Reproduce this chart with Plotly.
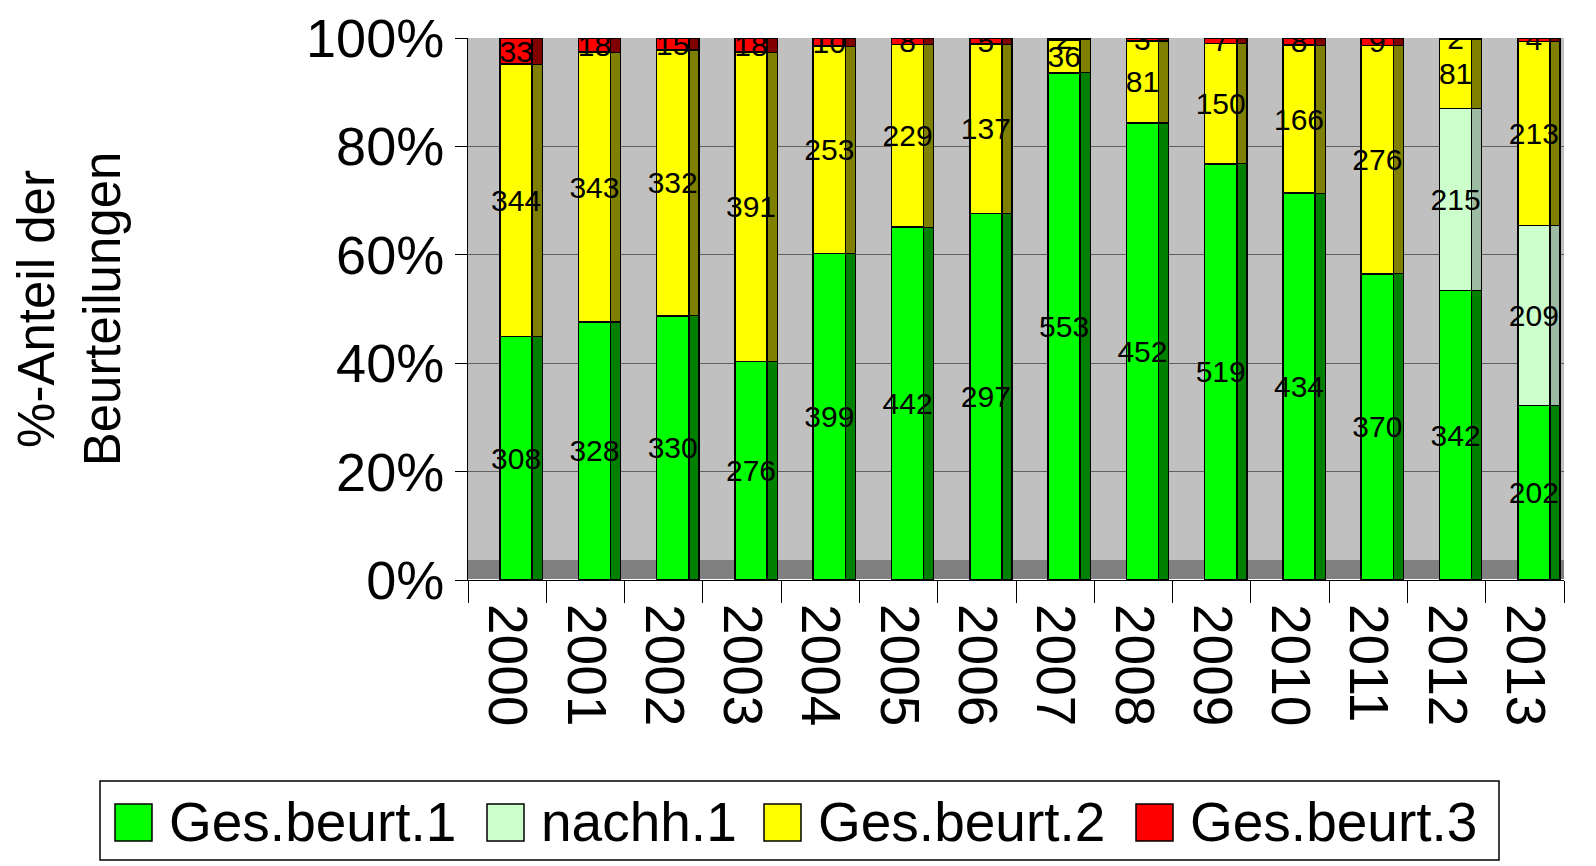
import plotly.graph_objects as go

years = ["2000", "2001", "2002", "2003", "2004", "2005", "2006",
         "2007", "2008", "2009", "2010", "2011", "2012", "2013"]
ges1 = [308, 328, 330, 276, 399, 442, 297, 553, 452, 519, 434, 370, 342, 202]
nachh1 = [0, 0, 0, 0, 0, 0, 0, 0, 0, 0, 0, 0, 215, 209]
ges2 = [344, 343, 332, 391, 253, 229, 137, 36, 81, 150, 166, 276, 81, 213]
ges3 = [33, 18, 15, 18, 10, 8, 5, 2, 3, 7, 8, 9, 2, 4]

series = [
    ("Ges.beurt.1", ges1, "#00FF00", "#008000"),
    ("nachh.1", nachh1, "#CCFFCC", "#9DBBA2"),
    ("Ges.beurt.2", ges2, "#FFFF00", "#808000"),
    ("Ges.beurt.3", ges3, "#FF0000", "#800000"),
]

OFF = 8  # page body margin
W, H = 1596 - OFF, 866 - OFF
L, T = 468 - OFF, 38 - OFF
R = W - (1564 - OFF)
B = H - (580 - OFF)
PW, PH = W - L - R, H - T - B
FONT = "Liberation Sans, Arial"


def px_x(x):
    return (x - OFF - L) / PW


def px_y(y):
    return (H - B - (y - OFF)) / PH


fig = go.Figure()
# darker side faces (pseudo-3D) on the base axis
for name, vals, col, side in series:
    fig.add_trace(go.Bar(
        x=years, y=vals, name=name + " side",
        marker=dict(color=side, line=dict(color="black", width=1.2)),
        width=0.13, offset=0.32, showlegend=False, hoverinfo="skip",
    ))
# front faces with labels on the overlaid axis (drawn on top)
for name, vals, col, side in series:
    fig.add_trace(go.Bar(
        x=years, y=vals, name=name, xaxis="x2",
        marker=dict(color=col, line=dict(color="black", width=1.5)),
        text=[str(v) if v else "" for v in vals],
        textposition="inside", insidetextanchor="middle",
        constraintext="none", textangle=0,
        textfont=dict(family=FONT, size=30, color="black"),
        width=0.41, offset=-0.09, showlegend=False,
    ))

# floor band + manual legend (layout decoration)
shapes = [dict(type="rect", xref="paper", yref="paper", layer="below",
               x0=0, x1=1, y0=0, y1=20 / PH,
               line=dict(width=0), fillcolor="#808080")]
shapes.append(dict(type="rect", xref="paper", yref="paper",
                   x0=px_x(100), x1=px_x(1499), y0=px_y(781), y1=px_y(860),
                   line=dict(color="black", width=1.5), fillcolor="white"))
annotations = []
sq_x = [115, 487, 764, 1136]
for (name, vals, col, side), sx in zip(series, sq_x):
    shapes.append(dict(type="rect", xref="paper", yref="paper",
                       x0=px_x(sx), x1=px_x(sx + 37), y0=px_y(804), y1=px_y(841),
                       line=dict(color="black", width=1.5), fillcolor=col))
    annotations.append(dict(xref="paper", yref="paper", x=px_x(sx + 52), y=px_y(822),
                            xanchor="left", yanchor="middle", showarrow=False,
                            text=name, font=dict(family=FONT, size=55, color="black")))

fig.update_layout(
    barmode="stack", barnorm="percent",
    width=W, height=H,
    paper_bgcolor="white", plot_bgcolor="#C0C0C0",
    margin=dict(l=L, r=R, t=T, b=B, autoexpand=False),
    font=dict(family=FONT, color="black"),
    showlegend=False,
    shapes=shapes, annotations=annotations,
    xaxis=dict(
        tickangle=90, tickfont=dict(size=55), ticks="outside", ticklen=22,
        ticklabelstandoff=12,
        tickson="boundaries", tickcolor="black", showline=True, linecolor="black",
        showgrid=False, automargin=False,
    ),
    xaxis2=dict(overlaying="x", matches="x", visible=False),
)
fig.update_yaxes(
    range=[0, 100], tickvals=[0, 20, 40, 60, 80, 100],
    ticktext=["0%", "20%", "40%", "60%", "80%", "100%"],
    tickfont=dict(size=54), ticks="outside", ticklen=12, tickcolor="black",
    ticklabeloverflow="allow",
    showline=True, linecolor="black", gridcolor="#606060", gridwidth=1,
    automargin=False,
    title=dict(text="%-Anteil der<br>Beurteilungen", font=dict(size=51), standoff=172),
)
fig.write_html("out.html")
